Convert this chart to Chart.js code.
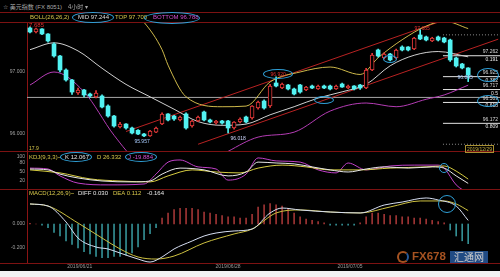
<!DOCTYPE html>
<html><head><meta charset="utf-8">
<script src="https://cdn.jsdelivr.net/npm/chart.js@4/dist/chart.umd.min.js"></script>
<style>
html,body{margin:0;padding:0;background:#fff;overflow:hidden;}
#wrap{position:relative;width:500px;height:277px;overflow:hidden;background:#f2f2f2;}
#bg{position:absolute;left:0;top:0;width:500px;height:271px;background:#000;}
canvas{position:absolute;left:0;}
.t{position:absolute;white-space:nowrap;font-family:"Liberation Sans",Arial,sans-serif;font-size:6px;line-height:7px;}
.sep{position:absolute;left:0;width:500px;height:1px;background:#7c1212;}
.ell{position:absolute;border:1.3px solid #2f9fd6;border-radius:50%;box-sizing:border-box;}
</style></head><body>
<div id="wrap">
<div id="bg"></div>
<canvas id="cMain" width="500" height="128" style="top:23px;width:500px;height:128px"></canvas>
<canvas id="cKdj" width="500" height="38" style="top:151px;width:500px;height:38px"></canvas>
<canvas id="cMacd" width="500" height="82" style="top:189px;width:500px;height:82px"></canvas>
<div class="sep" style="top:12px"></div>
<div class="sep" style="top:22px"></div>
<div class="sep" style="top:151px"></div>
<div class="sep" style="top:189px"></div>
<div class="sep" style="top:263px"></div>

<div class="t" style="left:3px;top:2.5px;color:#a8a8a8;">☆ <span style="font-family:'Noto Sans CJK SC'">美元指数</span> (FX 8051)</div>
<div class="t" style="left:68px;top:2.5px;color:#a8a8a8;font-family:'Noto Sans CJK SC'">4小时 ▾</div>
<div class="t" style="left:30px;top:13.5px;color:#d6c64a;">BOLL(26,26,2)</div>
<div class="t" style="left:78px;top:13.5px;color:#dddddd;">MID 97.244</div>
<div class="t" style="left:115px;top:13.5px;color:#d6c64a;">TOP 97.700</div>
<div class="t" style="left:153px;top:13.5px;color:#d050d0;">BOTTOM 96.788</div>
<div class="t" style="left:29px;top:22px;color:#e03030;">7.685</div>
<div class="t" style="left:29px;top:144.5px;color:#d6c64a;font-size:5px;">17.9</div>
<div class="t" style="left:465px;top:145px;color:#c8b040;font-size:5px;line-height:6px;border:1px solid #a89030;padding:0 1px;">2019/12/29</div>

<div class="t" style="left:29px;top:153.5px;color:#d6c64a;">KDJ(9,3,3)~</div>
<div class="t" style="left:65px;top:153.5px;color:#e6e6e6;">K 12.067</div>
<div class="t" style="left:97px;top:153.5px;color:#d6c64a;">D 26.332</div>
<div class="t" style="left:128px;top:153.5px;color:#d050d0;">J -19.884</div>

<div class="t" style="left:29px;top:189.5px;color:#d6c64a;">MACD(12,26,9)~</div>
<div class="t" style="left:78px;top:189.5px;color:#e6e6e6;">DIFF 0.030</div>
<div class="t" style="left:113px;top:189.5px;color:#d6c64a;">DEA 0.112</div>
<div class="t" style="left:147px;top:189.5px;color:#e6e6e6;">-0.164</div>

<div style="position:absolute;left:397px;top:251px;width:12px;height:12px;border:2.5px solid #d0682a;border-right-color:#2f6fc0;border-radius:50%;box-sizing:border-box;opacity:0.8"></div>
<div class="t" style="left:412px;top:250px;font-size:11.5px;line-height:13px;font-weight:bold;color:#d0682a;opacity:0.8">FX678</div>
<div class="t" style="left:450px;top:251px;height:12px;width:38px;background:#2a5ea6;color:#fff;font-family:'Noto Sans CJK SC';font-size:10px;line-height:12px;text-align:center;opacity:0.8">汇通网</div>

<div class="ell" style="left:72px;top:12px;width:42px;height:11px"></div>
<div class="ell" style="left:144px;top:11.5px;width:56px;height:12px"></div>
<div class="ell" style="left:60px;top:152px;width:32px;height:10px"></div>
<div class="ell" style="left:125px;top:152px;width:32px;height:10px"></div>
</div>
<script>
// ---- candles (4h) ----
const openV = [
97.710,97.645,97.694,97.613,97.452,97.258,97.032,96.871,96.661,96.710,
96.645,96.597,96.613,96.452,96.290,96.113,96.161,96.097,96.060,96.000,
95.970,96.030,96.161,96.323,96.290,96.226,96.323,96.129,96.210,96.355,
96.226,96.177,96.210,96.210,96.097,96.194,96.274,96.258,96.419,96.532,
96.452,96.823,96.742,96.790,96.726,96.790,96.710,96.774,96.726,96.774,
96.774,96.726,96.806,96.742,96.774,96.790,96.742,97.032,97.355,97.226,
97.290,97.226,97.403,97.403,97.371,97.597,97.565,97.500,97.565,97.548,
97.516,97.226,97.129,97.065];
const closeV = [
97.645,97.694,97.613,97.500,97.258,97.032,96.871,96.677,96.710,96.629,
96.613,96.661,96.435,96.290,96.129,96.161,96.097,96.016,96.000,95.970,
96.048,96.097,96.323,96.226,96.242,96.274,96.097,96.210,96.274,96.226,
96.194,96.210,96.177,96.097,96.194,96.242,96.194,96.452,96.516,96.419,
96.774,96.774,96.806,96.726,96.645,96.677,96.758,96.742,96.774,96.742,
96.726,96.774,96.758,96.774,96.726,96.742,97.032,97.274,97.258,97.290,
97.194,97.355,97.355,97.355,97.548,97.532,97.516,97.548,97.516,97.484,
97.194,97.097,97.065,96.952];
const highV = [
97.73,97.71,97.70,97.62,97.47,97.27,97.05,96.88,96.74,96.72,
96.66,96.70,96.63,96.47,96.30,96.19,96.17,96.11,96.07,96.01,
96.06,96.11,96.34,96.33,96.30,96.29,96.34,96.22,96.29,96.37,
96.24,96.22,96.22,96.22,96.20,96.26,96.29,96.46,96.53,96.55,
96.80,96.920,96.82,96.80,96.74,96.80,96.77,96.79,96.79,96.79,
96.79,96.79,96.82,96.79,96.78,96.80,97.06,97.30,97.37,97.31,
97.30,97.37,97.42,97.41,97.56,97.685,97.58,97.56,97.58,97.56,
97.53,97.24,97.14,97.07];
const lowV = [
97.63,97.63,97.60,97.48,97.24,97.00,96.85,96.64,96.64,96.60,
96.59,96.58,96.42,96.27,96.11,96.10,96.08,96.00,95.99,95.957,
95.96,96.02,96.15,96.21,96.22,96.21,96.08,96.11,96.20,96.21,
96.18,96.16,96.16,96.018,96.08,96.18,96.18,96.24,96.40,96.40,
96.43,96.76,96.73,96.71,96.63,96.66,96.70,96.73,96.72,96.73,
96.71,96.72,96.75,96.73,96.71,96.72,96.73,97.02,97.24,97.21,
97.18,97.21,97.34,97.34,97.36,97.52,97.50,97.49,97.50,97.47,
97.17,97.08,97.05,96.845];

// ---- Bollinger (read at candle indices) ----
const midIdx = [0,4,8,12,16,20,24,28,32,36,40,44,48,52,56,60,64,68,73];
const midVal = [97.36,97.47,97.34,97.06,96.80,96.60,96.40,96.20,96.14,96.16,96.31,96.44,96.58,96.68,96.80,97.10,97.27,97.33,97.244];
const topIdx = [0,8,16,19,22,23,26,32,36,40,45,50,55,58,62,66,69,73];
const topVal = [98.05,98.15,98.05,97.80,97.36,97.11,96.60,96.44,96.45,96.84,97.00,97.08,96.96,97.23,97.52,97.74,97.82,97.70];
const botIdx = [0,4,9,14,18,24,30,33,38,44,50,56,61,66,69,73];
const botVal = [96.79,97.00,96.68,95.98,95.55,95.40,95.55,95.72,95.95,96.03,96.37,96.50,96.44,96.56,96.63,96.788];

// ---- trend channel, horizontal line, fibonacci ----
const chanUpIdx = [16,69], chanUpVal = [96.04,97.837];
const chanLoIdx = [28,78], chanLoVal = [95.835,97.529];
const hLineVal = 96.59;
const fibVal = [97.599,97.262,96.925,96.717,96.509,96.172,95.835];
const fibRatio = ['0','0.191','0.382','0.5','0.618','0.809','1'];
const fibFrom = 68.8;

// ---- KDJ ----
const kIdx = [0,3,5,8,12,17,20,22,25,29,33,36,38,41,44,47,50,53,56,59,63,67,69,71,73];
const kVal = [60,57,43,30,20,17,20,43,63,57,37,50,83,80,77,67,57,50,60,67,63,67,63,37,12.067];
const dIdx = [0,5,10,15,20,23,27,31,35,38,42,46,50,55,60,66,69,71,73];
const dVal = [57,47,27,20,17,37,57,50,47,63,73,67,57,57,63,67,70,53,26.332];
const jIdx = [0,3,5,8,13,19,21,23,25,28,31,33,36,38,41,45,48,51,53,56,60,64,68,69,71,73];
const jVal = [63,60,37,13,7,10,43,83,90,67,60,23,43,97,87,83,57,47,80,57,70,73,73,63,7,-19.884];

// ---- MACD ----
const diffIdx = [0,3,6,8,11,13,15,18,20,22,24,27,29,31,34,37,40,42,45,50,55,59,62,66,68,71,73];
const diffVal = [0.167,0.150,0.017,-0.117,-0.192,-0.208,-0.242,-0.292,-0.317,-0.275,-0.208,-0.142,-0.100,-0.075,-0.058,-0.042,0.092,0.133,0.117,0.100,0.092,0.158,0.183,0.217,0.200,0.150,0.030];
const deaIdx = [0,3,8,12,15,18,21,24,29,34,37,41,45,50,55,60,65,69,71,73];
const deaVal = [0.167,0.150,0.008,-0.117,-0.208,-0.275,-0.292,-0.267,-0.158,-0.083,-0.042,0.092,0.117,0.100,0.092,0.142,0.192,0.192,0.167,0.112];
const histVal = [
0.005,0,-0.01,-0.03,-0.07,-0.10,-0.14,-0.17,-0.20,-0.23,
-0.25,-0.27,-0.28,-0.28,-0.27,-0.27,-0.26,-0.24,-0.19,-0.13,
-0.08,-0.03,0.05,0.09,0.12,0.13,0.13,0.13,0.12,0.10,
0.09,0.08,0.07,0.06,0.06,0.05,0.05,0.08,0.14,0.16,
0.17,0.16,0.15,0.13,0.09,0.06,0.04,0.03,0.02,0.01,
-0.01,-0.01,-0.01,-0.01,-0.01,0.01,0.06,0.09,0.09,0.08,
0.07,0.07,0.06,0.06,0.05,0.05,0.04,0.03,0.02,0.01,
-0.05,-0.10,-0.14,-0.164];

// ---- axis ticks ----
const mainTicks = [96, 97];
const kdjTicks = [100, 80, 50, 20];
const macdTicks = [0, -0.2];
const dateLabels = ['2019/06/21','2019/06/28','2019/07/05'];
const dateIdx = [8.3, 33, 53.3];

const CYAN = '#52f2f2', RED = '#e83a3a';
const FONT = 'Liberation Sans';
const xMin = -0.5, xMax = 78.3;
const pairs = (ix, vals) => ix.map((x, k) => ({x, y: vals[k]}));

function yScale(min, max, ticks, fmt){
  return {
    type:'linear', min, max, position:'left',
    afterFit(s){ s.width = 27; s.paddingTop = 0; s.paddingBottom = 0; },
    afterBuildTicks(s){ s.ticks = ticks.map(v => ({value:v})); },
    ticks:{ color:'#a0a0a0', font:{size:5, family:FONT}, padding:2, autoSkip:false, callback:fmt },
    grid:{ display:false, drawTicks:false },
    border:{ display:true, color:'#8a1414', width:1 }
  };
}
const baseOpts = {
  responsive:false, animation:false, events:[],
  layout:{padding:0},
  plugins:{legend:{display:false}, tooltip:{enabled:false}}
};
function line(data, color, order, extra){
  return Object.assign({type:'line', data, borderColor:color, borderWidth:1, pointRadius:0,
    tension:0.4, cubicInterpolationMode:'monotone', fill:false, order}, extra||{});
}

const idx = openV.map((_, i) => i);
const up = idx.map(i => closeV[i] > openV[i]);

const mainChart = new Chart(document.getElementById('cMain'), {
  type:'bar',
  data:{ datasets:[
    { type:'bar', data: idx.map(i => ({x:i, y:[openV[i], closeV[i]]})), grouped:false, barThickness:4,
      backgroundColor: idx.map(i => up[i] ? '#000' : CYAN),
      borderColor: idx.map(i => up[i] ? RED : CYAN),
      borderWidth: idx.map(i => up[i] ? 1 : 0), borderSkipped:false, order:1 },
    { type:'bar', data: idx.map(i => ({x:i, y:[lowV[i], highV[i]]})), grouped:false, barThickness:1,
      backgroundColor: idx.map(i => up[i] ? RED : CYAN), order:2 },
    line(pairs(midIdx, midVal), '#cfcfcf', 3),
    line(pairs(topIdx, topVal), '#cdb84a', 3),
    line(pairs(botIdx, botVal), '#b43cb4', 3),
    line(pairs(chanUpIdx, chanUpVal), '#b82222', 3, {tension:0}),
    line(pairs(chanLoIdx, chanLoVal), '#b82222', 3, {tension:0}),
    line([{x:xMin, y:hLineVal}, {x:xMax, y:hLineVal}], '#a8a8a8', 3, {tension:0}),
    ...fibVal.map((v, k) => line([{x:fibFrom, y:v}, {x:xMax, y:v}],
        (k === 0 || k === fibVal.length-1) ? '#8a8a8a' : '#e4e4e4', 3,
        {tension:0, borderDash:(k === 0 || k === fibVal.length-1) ? [1,2] : []}))
  ]},
  options: Object.assign({}, baseOpts, {
    scales:{
      x:{type:'linear', min:xMin, max:xMax, display:false, offset:false},
      y: yScale(95.726, 97.79, mainTicks, v => v.toFixed(3))
    }
  })
});

const kdjChart = new Chart(document.getElementById('cKdj'), {
  type:'line',
  data:{ datasets:[
    line(pairs(jIdx, jVal), '#c040c8', 2),
    line(pairs(dIdx, dVal), '#d6cc40', 1),
    line(pairs(kIdx, kVal), '#e8e8e8', 0)
  ]},
  options: Object.assign({}, baseOpts, {
    scales:{
      x:{type:'linear', min:xMin, max:xMax, display:false, offset:false},
      y: yScale(-6.67, 120, kdjTicks, v => String(v))
    }
  })
});

const macdChart = new Chart(document.getElementById('cMacd'), {
  type:'bar',
  data:{ datasets:[
    { type:'bar', data: idx.map(i => ({x:i, y:histVal[i]})), barThickness:1, grouped:false,
      backgroundColor: idx.map(i => histVal[i] >= 0 ? '#9e3434' : '#348f94'), order:3 },
    line(pairs(deaIdx, deaVal), '#cdc040', 1),
    line(pairs(diffIdx, diffVal), '#d6def2', 0)
  ]},
  options: Object.assign({}, baseOpts, {
    scales:{
      x:{type:'linear', min:xMin, max:xMax, offset:false, position:'bottom',
        afterFit(s){ s.height = 8; s.paddingLeft = 0; s.paddingRight = 0; },
        afterBuildTicks(s){ s.ticks = dateIdx.map(v => ({value:v})); },
        ticks:{ color:'#9a9a9a', font:{size:5, family:FONT}, padding:1, autoSkip:false, maxRotation:0,
          callback:(v, i) => dateLabels[i] },
        grid:{display:false, drawTicks:false}, border:{display:false}
      },
      y: yScale(-0.325, 0.2917, macdTicks, v => v.toFixed(3))
    }
  })
});

// ---- labels and marks anchored through the chart scales ----
const wrap = document.getElementById('wrap');
function pt(chart, top, xv, yv){ return [chart.scales.x.getPixelForValue(xv), top + chart.scales.y.getPixelForValue(yv)]; }
function addText(txt, x, y, color, align, size){
  const d = document.createElement('div'); d.className = 't'; d.textContent = txt;
  d.style.color = color; d.style.fontSize = (size || 5) + 'px';
  d.style.left = x + 'px'; d.style.top = y + 'px';
  d.style.transform = align === 'right' ? 'translate(-100%,-50%)' : 'translate(-50%,-50%)';
  wrap.appendChild(d);
}
function addEll(cx, cy, rx, ry){
  const d = document.createElement('div'); d.className = 'ell';
  d.style.left = (cx - rx) + 'px'; d.style.top = (cy - ry) + 'px';
  d.style.width = (2*rx) + 'px'; d.style.height = (2*ry) + 'px';
  wrap.appendChild(d);
}
let p;
p = pt(mainChart, 23, 65, highV[65]); addText('97.685', p[0]+2, p[1]-2, '#e03030');
p = pt(mainChart, 23, 41, highV[41]); addText('96.920', p[0]+2, p[1]-3, '#e03030'); addEll(p[0]+2, p[1]-3, 15, 5);
p = pt(mainChart, 23, 19, lowV[19]); addText('95.957', p[0]-2, p[1]+4, '#a8ccff');
p = pt(mainChart, 23, 33, lowV[33]); addText('96.018', p[0]+10, p[1]+5, '#d0d8ff');
p = pt(mainChart, 23, 73, lowV[73]); addText('96.845', p[0]-3, p[1]-4.5, '#a8ccff');
p = pt(mainChart, 23, 49, 96.55); addEll(p[0], p[1], 10, 4);
p = pt(mainChart, 23, 60, 97.21); addEll(p[0], p[1], 7, 4);
for (let k = 1; k < fibVal.length - 1; k++){
  p = pt(mainChart, 23, xMax, fibVal[k]);
  addText(fibVal[k].toFixed(3), 498, p[1]-4.5, '#d8d8d8', 'right');
  addText(fibRatio[k], 498, p[1]+3, '#e8e8e8', 'right');
}
p = pt(mainChart, 23, 76.3, fibVal[2]); addEll(p[0], p[1]-2, 11, 7);
p = pt(mainChart, 23, 76.3, fibVal[4]); addEll(p[0], p[1]-1.5, 11, 6);
p = pt(kdjChart, 151, 69, 62); addEll(p[0], p[1], 5, 5);
p = pt(macdChart, 189, 69.5, 0.167); addEll(p[0], p[1], 9, 9);
</script>
</body></html>
